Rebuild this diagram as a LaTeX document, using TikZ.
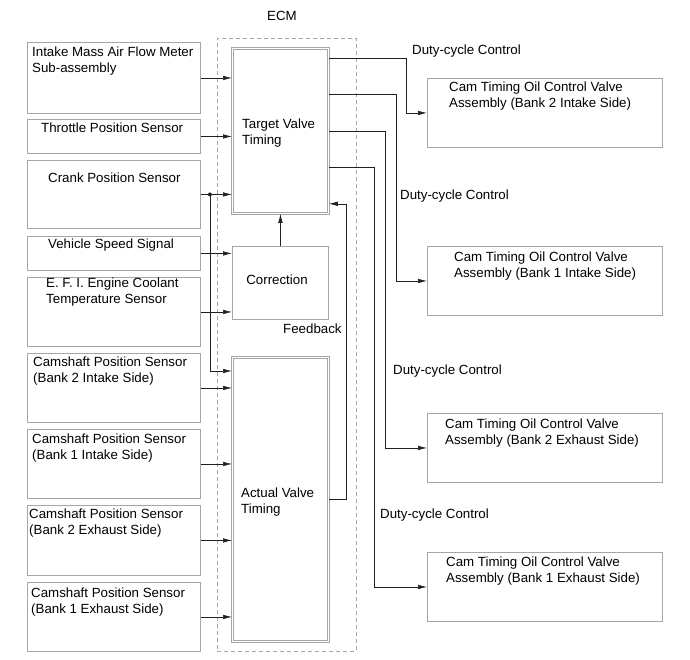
\documentclass[tikz,border=0pt]{standalone}
\usepackage{fontspec}
\setmainfont{Liberation Sans}
\usepackage{tikz}
\usetikzlibrary{positioning,arrows.meta,calc}
\definecolor{ecmgray}{HTML}{A6A6A6}
\definecolor{ecmline}{HTML}{202020}

\begin{document}
\begin{tikzpicture}[x=1pt, y=-1pt,
    font=\fontsize{13.3}{16}\selectfont,
    sbox/.style={draw=ecmgray, line width=0.9pt, minimum width=173pt, inner sep=0pt, anchor=north west},
    vbox/.style={draw=ecmgray, line width=0.9pt, minimum width=235pt, inner sep=0pt, anchor=north west},
    dblbox/.style={draw=ecmgray, double=white, double distance=1.6pt, line width=0.8pt, minimum width=96pt, inner sep=0pt, anchor=north west},
    txt/.style={anchor=north west, inner sep=0pt, align=left},
    sig/.style={draw=ecmline, line width=0.6pt, -{Latex[length=9pt,width=4.5pt]}}]
    \useasboundingbox (0,0) rectangle (690,659);
    \node[draw=ecmgray, dashed, dash pattern=on 4pt off 3pt, line width=0.8pt, minimum width=139pt, minimum height=613pt, inner sep=0pt, anchor=north west] (ecm) at (217,38) {};
    \node[inner sep=0pt] (ecm-t) at (282,16) {ECM};
    \node[sbox, minimum height=71pt] (maf) at (27,42) {};
    \node[sbox, minimum height=34pt] (tps) at (27,119) {};
    \node[sbox, minimum height=68pt] (crank) at (27,160) {};
    \node[sbox, minimum height=34pt] (vss) at (27,236) {};
    \node[sbox, minimum height=69pt] (ect) at (27,277) {};
    \node[sbox, minimum height=69pt] (cam2i) at (27,353) {};
    \node[sbox, minimum height=69pt] (cam1i) at (27,429) {};
    \node[sbox, minimum height=70pt] (cam2e) at (27,505) {};
    \node[sbox, minimum height=69pt] (cam1e) at (27,582) {};
    \node[txt] (maf-t) at (32,47) {Intake Mass Air Flow Meter\\Sub-assembly};
    \node[txt] (tps-t) at (41,123) {Throttle Position Sensor};
    \node[txt] (crank-t) at (48,173) {Crank Position Sensor};
    \node[txt] (vss-t) at (48,239) {Vehicle Speed Signal};
    \node[txt] (ect-t) at (46,278) {E. F. I. Engine Coolant\\Temperature Sensor};
    \node[txt] (cam2i-t) at (33,357) {Camshaft Position Sensor\\(Bank 2 Intake Side)};
    \node[txt] (cam1i-t) at (32,434) {Camshaft Position Sensor\\(Bank 1 Intake Side)};
    \node[txt] (cam2e-t) at (29,509) {Camshaft Position Sensor\\(Bank 2 Exhaust Side)};
    \node[txt] (cam1e-t) at (31,588) {Camshaft Position Sensor\\(Bank 1 Exhaust Side)};
    \node[dblbox, minimum height=165pt] (target) at (232,48) {};
    \node[draw=ecmgray, line width=0.9pt, minimum width=96pt, minimum height=73pt, inner sep=0pt, anchor=north west] (corr) at (232,246) {};
    \node[dblbox, minimum height=284pt] (actual) at (232,357) {};
    \node[txt] (target-t) at (242,119) {Target Valve\\Timing};
    \node[inner sep=0pt] (corr-t) at (277,280) {Correction};
    \node[txt] (actual-t) at (241,488) {Actual Valve\\Timing};
    \node[txt] (fb-t) at (283,324) {Feedback};
    \node[vbox, minimum height=69pt] (vA) at (427,78) {};
    \node[vbox, minimum height=69pt] (vB) at (427,246) {};
    \node[vbox, minimum height=69pt] (vC) at (427,413) {};
    \node[vbox, minimum height=69pt] (vD) at (427,552) {};
    \node[txt] (vA-t) at (449,82) {Cam Timing Oil Control Valve\\Assembly (Bank 2 Intake Side)};
    \node[txt] (vB-t) at (454,252) {Cam Timing Oil Control Valve\\Assembly (Bank 1 Intake Side)};
    \node[txt] (vC-t) at (445,419) {Cam Timing Oil Control Valve\\Assembly (Bank 2 Exhaust Side)};
    \node[txt] (vD-t) at (446,557) {Cam Timing Oil Control Valve\\Assembly (Bank 1 Exhaust Side)};
    \node[txt] (dA) at (412,45) {Duty-cycle Control};
    \node[txt] (dB) at (400,190) {Duty-cycle Control};
    \node[txt] (dC) at (393,365) {Duty-cycle Control};
    \node[txt] (dD) at (380,509) {Duty-cycle Control};
    \foreach \s/\b in {maf/target, tps/target, crank/target, vss/corr, ect/corr, cam2i/actual, cam1i/actual, cam2e/actual, cam1e/actual}
      \draw[sig] (\s.east) -- (\s.east -| \b.west);
    \coordinate (split) at ($(crank.east)+(9,0)$);
    \coordinate (tap) at ($(actual.north west)+(0,14)$);
    \fill[ecmline] (split) circle (2pt);
    \draw[sig] (split) |- (tap);
    \draw[sig] (corr.north) -- (corr.north |- target.south);
    \draw[sig] (actual.east) -- ++(17,0) |- ($(target.south east)+(0,-10)$);
    \foreach \v/\dy/\dx in {vA/10/77, vB/46/67, vC/83/56, vD/119/45}
      \draw[sig] ($(target.north east)+(0,\dy)$) -- ++(\dx,0) |- (\v.west);
  \end{tikzpicture}
\end{document}
